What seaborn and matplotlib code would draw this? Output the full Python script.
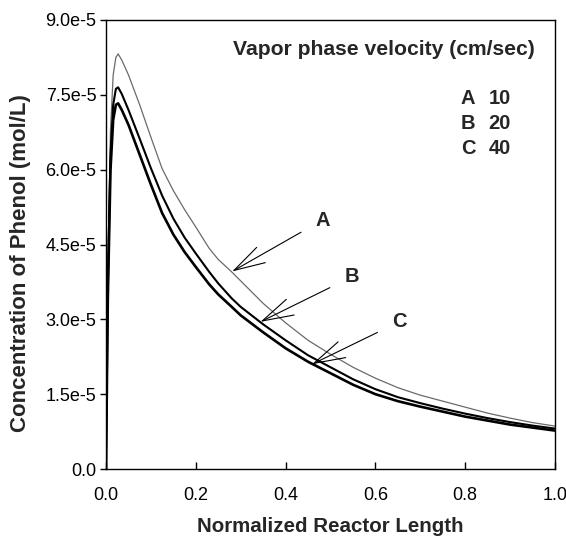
import matplotlib
matplotlib.use("Agg")
import matplotlib.pyplot as plt
import seaborn as sns
import pandas as pd

# Data (concentration in units of 1e-5 mol/L)
x = [0, 0.004, 0.01, 0.016, 0.022, 0.027, 0.035, 0.05, 0.075, 0.1, 0.125, 0.15,
     0.175, 0.2, 0.23, 0.25, 0.28, 0.3, 0.35, 0.4, 0.45, 0.5, 0.55, 0.6, 0.65,
     0.7, 0.75, 0.8, 0.85, 0.9, 0.95, 1.0]
conc_A = [0, 4.0, 6.8, 7.9, 8.25, 8.32, 8.2, 7.9, 7.3, 6.65, 6.02, 5.58,
          5.2, 4.85, 4.42, 4.2, 3.95, 3.77, 3.32, 2.93, 2.58, 2.3, 2.04, 1.82, 1.63,
          1.48, 1.36, 1.24, 1.12, 1.02, 0.93, 0.86]
conc_B = [0, 3.6, 6.3, 7.3, 7.62, 7.65, 7.52, 7.2, 6.62, 6.03, 5.48, 5.02,
          4.64, 4.32, 3.95, 3.72, 3.42, 3.25, 2.9, 2.58, 2.28, 2.04, 1.8, 1.6, 1.44,
          1.32, 1.21, 1.11, 1.02, 0.94, 0.87, 0.81]
conc_C = [0, 3.4, 6.0, 7.0, 7.3, 7.33, 7.2, 6.9, 6.3, 5.7, 5.13, 4.7,
          4.35, 4.05, 3.7, 3.5, 3.25, 3.08, 2.74, 2.42, 2.15, 1.92, 1.69, 1.5, 1.36,
          1.25, 1.15, 1.05, 0.97, 0.89, 0.83, 0.77]
series = ["A", "B", "C"]
velocities = ["10", "20", "40"]
x_ticks = [0.0, 0.2, 0.4, 0.6, 0.8, 1.0]
y_ticks = [0.0, 1.5, 3.0, 4.5, 6.0, 7.5, 9.0]
y_tick_labels = ["0.0", "1.5e-5", "3.0e-5", "4.5e-5", "6.0e-5", "7.5e-5", "9.0e-5"]
# annotation: label position and arrow tip (data units)
label_pos = {"A": (0.482, 4.99), "B": (0.547, 3.85), "C": (0.653, 2.95)}
arrow_tip = {"A": (0.281, 3.96), "B": (0.344, 2.95), "C": (0.459, 2.10)}

sns.set_theme(style="white")
plt.rcParams["font.family"] = ["Liberation Sans", "DejaVu Sans"]

df = pd.DataFrame({
    "x": x * 3,
    "y": conc_A + conc_B + conc_C,
    "s": ["A"] * len(x) + ["B"] * len(x) + ["C"] * len(x),
})

fig = plt.figure(figsize=(5.66, 5.39), dpi=100)
L, R, T, B = 106, 555, 20, 469
ax = fig.add_axes([L / 566, 1 - B / 539, (R - L) / 566, (B - T) / 539])

styles = {"A": dict(color="#6a6a6a", lw=0.9),
          "B": dict(color="black", lw=1.5),
          "C": dict(color="black", lw=1.9)}
for s in series:
    sub = df[df["s"] == s]
    sns.lineplot(data=sub, x="x", y="y", ax=ax, color=styles[s]["color"],
                 linewidth=styles[s]["lw"], legend=False, estimator=None, sort=False)

ax.set_xlim(0, 1.0)
ax.set_ylim(0, 9.0)
ax.set_xticks(x_ticks)
ax.set_xticklabels([f"{t:.1f}" for t in x_ticks])
ax.set_yticks(y_ticks)
ax.set_yticklabels(y_tick_labels)
ax.tick_params(axis="x", direction="in", length=5, width=1, labelsize=13, pad=13, colors="black")
ax.tick_params(axis="y", direction="out", length=4, width=1, labelsize=13, pad=3, colors="black")
ax.tick_params(axis="both", left=True, bottom=True)
for sp in ax.spines.values():
    sp.set_visible(True)
    sp.set_color("black")
    sp.set_linewidth(1.0)

ax.set_xlabel("Normalized Reactor Length", fontsize=14.8, fontweight="bold", labelpad=9)
ax.set_ylabel("Concentration of Phenol (mol/L)", fontsize=16, fontweight="bold")
ax.yaxis.set_label_coords(-0.167, 0.459)

ax.text(0.955, 0.935, "Vapor phase velocity (cm/sec)", transform=ax.transAxes,
        ha="right", va="center", fontsize=15.2, fontweight="bold")
for i, (s, v) in enumerate(zip(series, velocities)):
    yy = 0.826 - i * 0.0557
    ax.text(0.806, yy, s, transform=ax.transAxes, ha="center", va="center",
            fontsize=14.5, fontweight="bold")
    ax.text(0.877, yy, v, transform=ax.transAxes, ha="center", va="center",
            fontsize=14.5, fontweight="bold")

for s in series:
    ax.annotate(s, xy=arrow_tip[s], xytext=label_pos[s], ha="center", va="center",
                fontsize=14.5, fontweight="bold",
                arrowprops=dict(arrowstyle="->,head_length=1.6,head_width=0.45",
                                color="black", lw=0.8, shrinkA=9, shrinkB=0,
                                mutation_scale=14))

fig.savefig("out.png", dpi=100)
